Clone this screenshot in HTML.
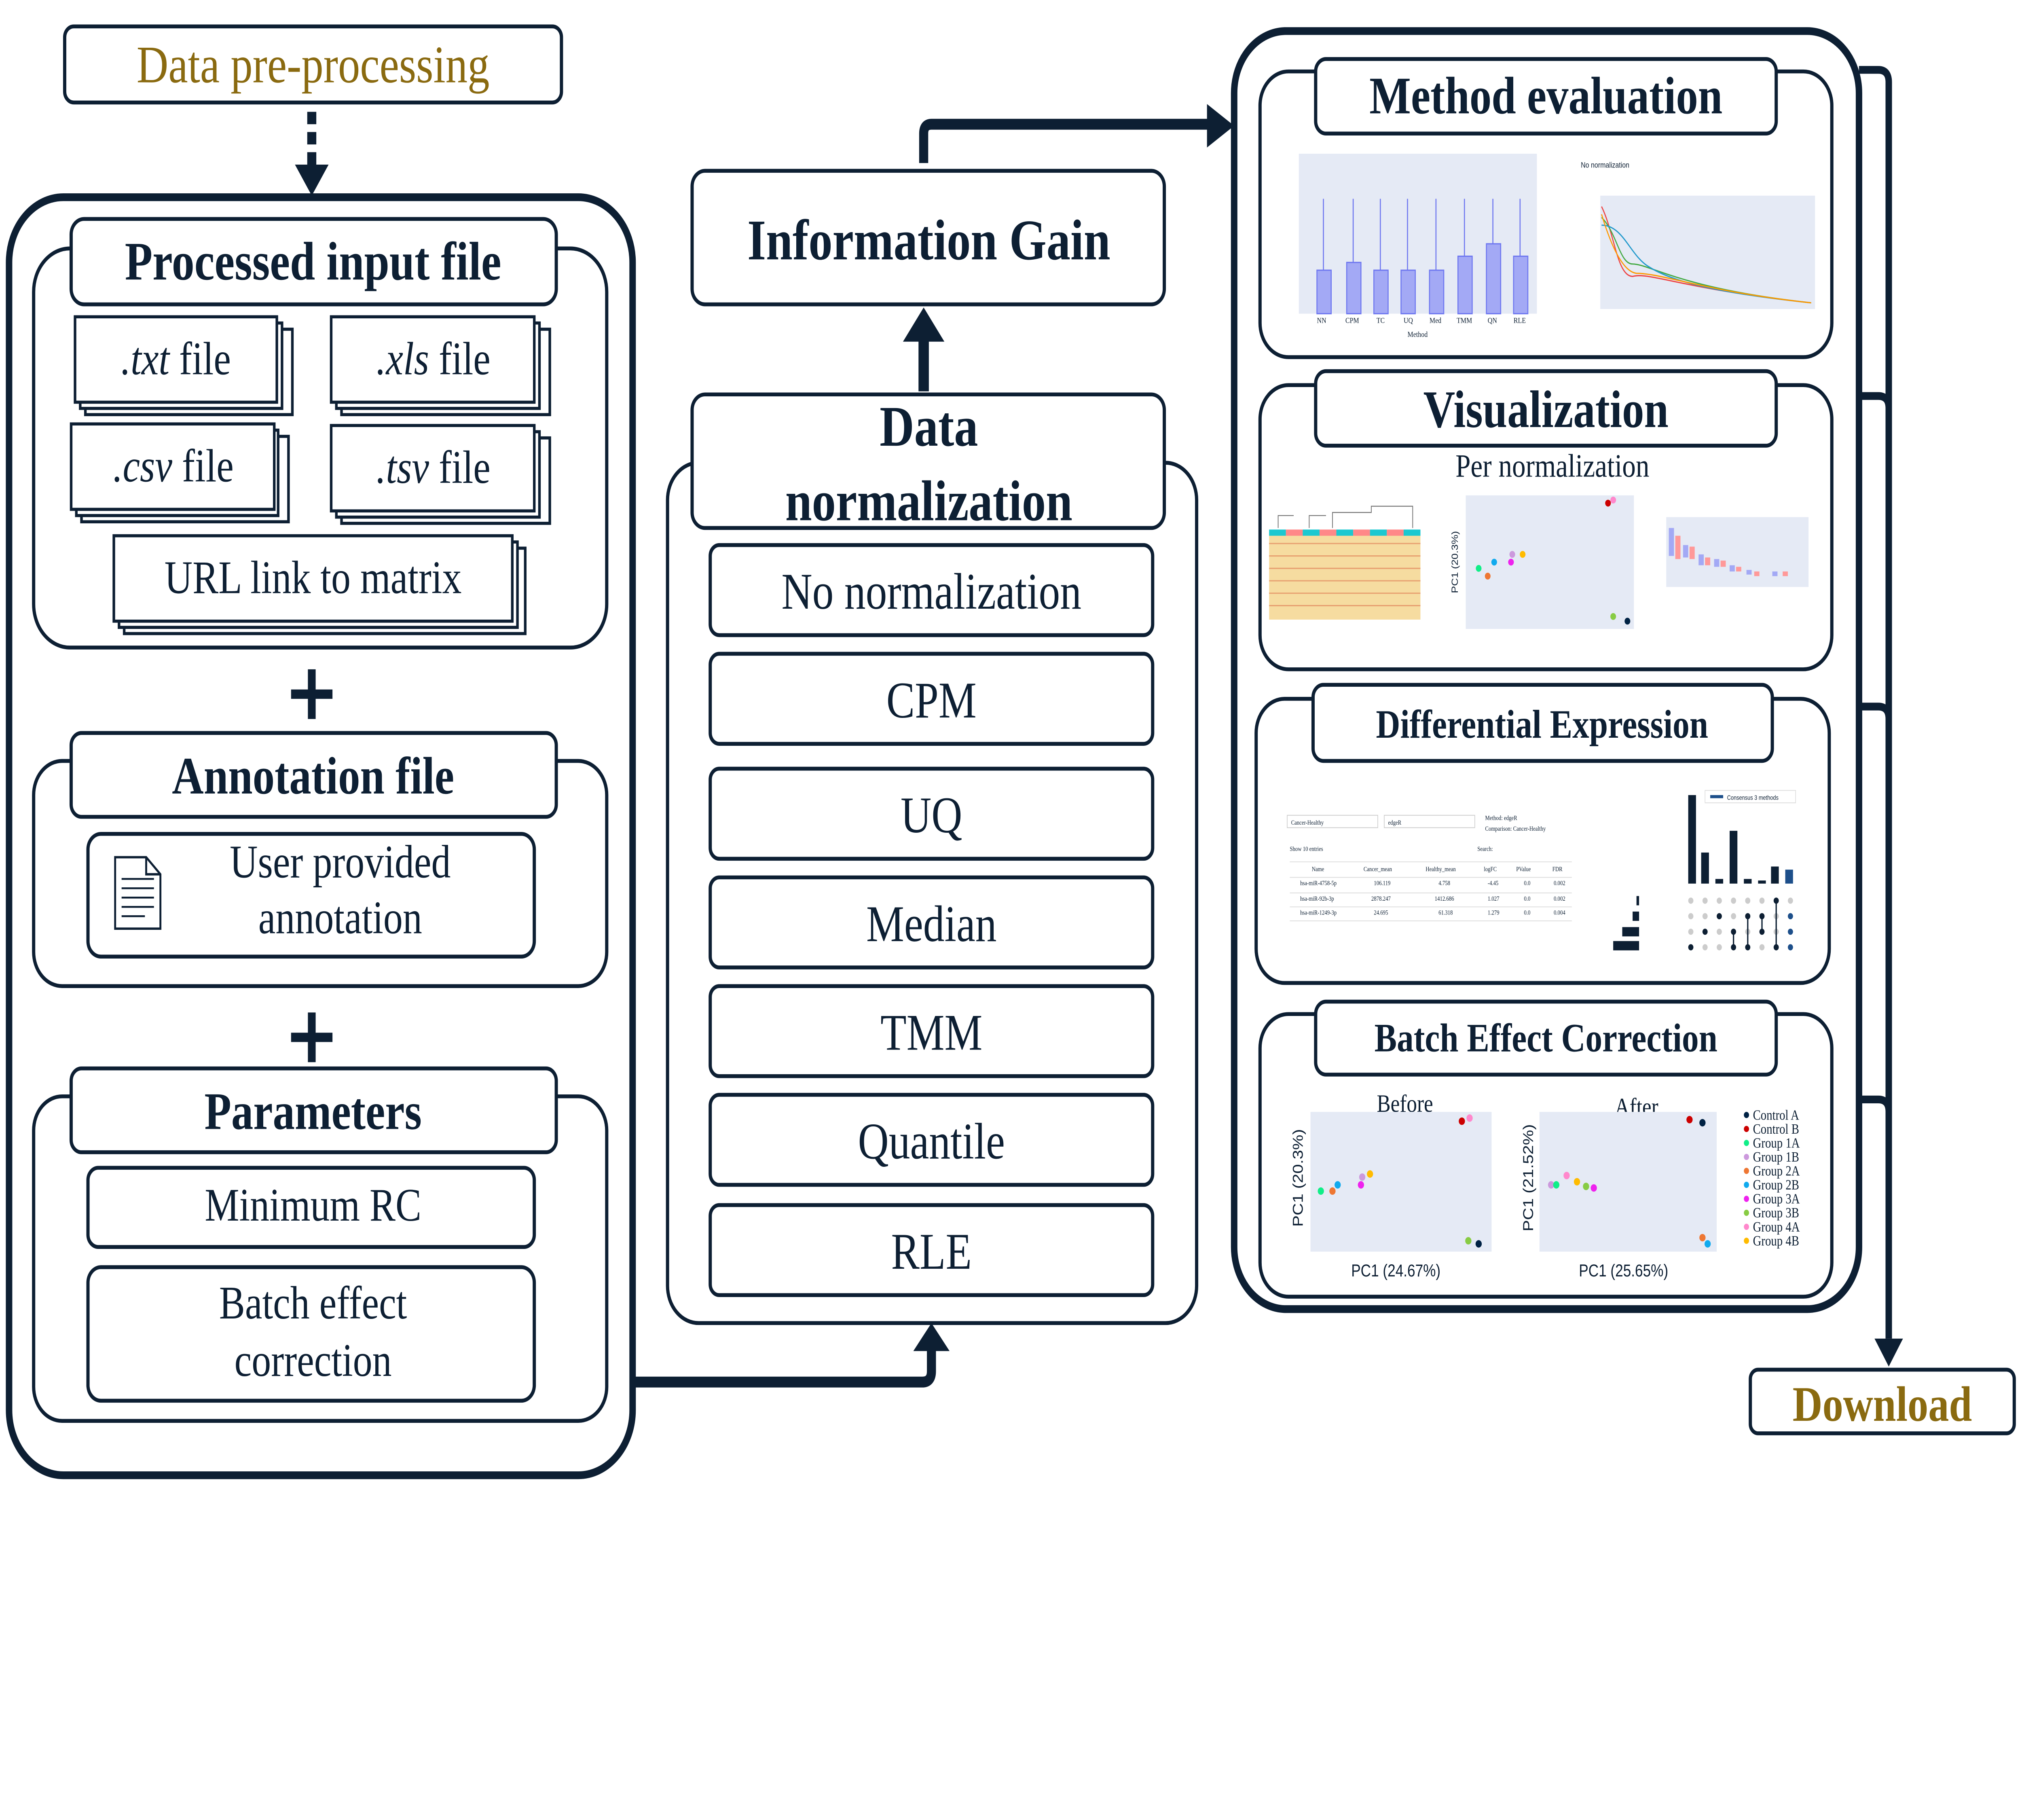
<!DOCTYPE html>
<html><head><meta charset="utf-8"><style>
html,body{margin:0;padding:0;background:#fff;width:100%;height:100%;overflow:hidden}
svg{display:block;position:absolute;left:0;top:0;width:100vw;height:100vh}
text{font-family:"Liberation Serif",serif;fill:#0d1f33}
.h{font-weight:bold}
.s{font-family:"Liberation Sans",sans-serif}
</style></head><body>
<svg viewBox="0 0 1563 1172" preserveAspectRatio="none" xmlns="http://www.w3.org/2000/svg">
<g fill="none" stroke="#0d1f33" stroke-width="2.5">
<rect x="50" y="17" width="384" height="49" rx="7" fill="#fff"/>
</g>
<text x="242" y="53" font-size="34" text-anchor="middle" style="fill:#8a6a10">Data pre-processing</text>
<line x1="241" y1="72" x2="241" y2="108" stroke="#0d1f33" stroke-width="7" stroke-dasharray="8,5"/>
<path d="M228,106 L254,106 L241,126 z" fill="#0d1f33"/>

<!-- LEFT PANEL -->
<g fill="none" stroke="#0d1f33">
<rect x="7" y="127" width="482" height="823" rx="42" stroke-width="5"/>
<rect x="26" y="160" width="443" height="257" rx="28" stroke-width="2.5"/>
<rect x="55" y="141" width="375" height="55" rx="10" fill="#fff" stroke-width="2.5"/>
</g>
<text x="242" y="180" font-size="35" text-anchor="middle" class="h">Processed input file</text>
<g fill="#fff" stroke="#0d1f33" stroke-width="2">
<rect x="66" y="212" width="160" height="55"/><rect x="62" y="208" width="156" height="55"/><rect x="58" y="204" width="156" height="55"/>
<rect x="264" y="212" width="161" height="55"/><rect x="260" y="208" width="157" height="55"/><rect x="256" y="204" width="157" height="55"/>
<rect x="63" y="281" width="160" height="55"/><rect x="59" y="277" width="156" height="55"/><rect x="55" y="273" width="157" height="55"/>
<rect x="264" y="282" width="161" height="55"/><rect x="260" y="278" width="157" height="55"/><rect x="256" y="274" width="157" height="55"/>
<rect x="96" y="353" width="310" height="55"/><rect x="92" y="349" width="308" height="55"/><rect x="88" y="345" width="308" height="55"/>
</g>
<text x="136" y="241" font-size="30" text-anchor="middle"><tspan font-style="italic">.txt</tspan> file</text>
<text x="335" y="241" font-size="30" text-anchor="middle"><tspan font-style="italic">.xls</tspan> file</text>
<text x="134" y="310" font-size="30" text-anchor="middle"><tspan font-style="italic">.csv</tspan> file</text>
<text x="335" y="311" font-size="30" text-anchor="middle"><tspan font-style="italic">.tsv</tspan> file</text>
<text x="242" y="382" font-size="30" text-anchor="middle">URL link to matrix</text>
<path d="M241,431 V463 M225,447 H257" stroke="#0d1f33" stroke-width="6"/>

<g fill="none" stroke="#0d1f33" stroke-width="2.5">
<rect x="26" y="490" width="443" height="145" rx="22"/>
<rect x="55" y="472" width="375" height="54" rx="8" fill="#fff"/>
<rect x="68" y="537" width="345" height="79" rx="10"/>
<path d="M89,552 H113 L124,563 V598 H89 z M113,552 V563 H124" stroke-width="1.5"/>
<path d="M94,566 H119 M94,572 H119 M94,578 H119 M94,584 H119 M94,590 H112" stroke-width="1.2"/>
</g>
<text x="242" y="511" font-size="34" text-anchor="middle" class="h">Annotation file</text>
<text x="263" y="565" font-size="30" text-anchor="middle">User provided</text>
<text x="263" y="601" font-size="30" text-anchor="middle">annotation</text>
<path d="M241,652 V684 M225,668 H257" stroke="#0d1f33" stroke-width="6"/>

<g fill="none" stroke="#0d1f33" stroke-width="2.5">
<rect x="26" y="706" width="443" height="209" rx="22"/>
<rect x="55" y="688" width="375" height="54" rx="8" fill="#fff"/>
<rect x="68" y="752" width="345" height="51" rx="8"/>
<rect x="68" y="816" width="345" height="86" rx="10"/>
</g>
<text x="242" y="727" font-size="34" text-anchor="middle" class="h">Parameters</text>
<text x="242" y="786" font-size="30" text-anchor="middle">Minimum RC</text>
<text x="242" y="849" font-size="30" text-anchor="middle">Batch effect</text>
<text x="242" y="886" font-size="30" text-anchor="middle">correction</text>

<path d="M489,890 H713 Q720,890 720,883 V868" fill="none" stroke="#0d1f33" stroke-width="7"/>
<path d="M706,870 L734,870 L720,852 z" fill="#0d1f33"/>

<!-- MIDDLE -->
<g fill="none" stroke="#0d1f33" stroke-width="2.5">
<rect x="516" y="298" width="409" height="554" rx="24"/>
<rect x="535" y="254" width="365" height="86" rx="10" fill="#fff"/>
<rect x="535" y="110" width="365" height="86" rx="10"/>
<rect x="549" y="351" width="342" height="58" rx="7"/>
<rect x="549" y="421" width="342" height="58" rx="7"/>
<rect x="549" y="495" width="342" height="58" rx="7"/>
<rect x="549" y="565" width="342" height="58" rx="7"/>
<rect x="549" y="635" width="342" height="58" rx="7"/>
<rect x="549" y="705" width="342" height="58" rx="7"/>
<rect x="549" y="776" width="342" height="58" rx="7"/>
</g>
<text x="718" y="287" font-size="37" text-anchor="middle" class="h">Data</text>
<text x="718" y="335" font-size="37" text-anchor="middle" class="h">normalization</text>
<text x="718" y="167" font-size="37" text-anchor="middle" class="h">Information Gain</text>
<g font-size="33" text-anchor="middle">
<text x="720" y="392">No normalization</text>
<text x="720" y="462">CPM</text>
<text x="720" y="536">UQ</text>
<text x="720" y="606">Median</text>
<text x="720" y="676">TMM</text>
<text x="720" y="746">Quantile</text>
<text x="720" y="817">RLE</text>
</g>
<line x1="714" y1="252" x2="714" y2="215" stroke="#0d1f33" stroke-width="8"/>
<path d="M698,220 L730,220 L714,198 z" fill="#0d1f33"/>
<path d="M714,105 V86 Q714,80 720,80 H938" fill="none" stroke="#0d1f33" stroke-width="7"/>
<path d="M933,67 L954,81 L933,95 z" fill="#0d1f33"/>

<!-- RIGHT PANEL -->
<g fill="none" stroke="#0d1f33">
<rect x="954" y="20" width="483" height="823" rx="40" stroke-width="5"/>
<path d="M1437,45 H1452 Q1460,45 1460,53 V862" stroke-width="5"/>
<path d="M1437,255 H1452 Q1460,255 1460,263 M1437,455 H1452 Q1460,455 1460,463 M1437,708 H1452 Q1460,708 1460,716" stroke-width="5"/>
</g>
<path d="M1449,862 L1471,862 L1460,880 z" fill="#0d1f33"/>
<rect x="1353" y="882" width="204" height="41" rx="6" fill="#fff" stroke="#0d1f33" stroke-width="2.5"/>
<text x="1455" y="915" font-size="32" text-anchor="middle" class="h" style="fill:#8a6a10">Download</text>

<g fill="none" stroke="#0d1f33" stroke-width="2.5">
<rect x="974" y="46" width="442" height="184" rx="22"/>
<rect x="974" y="248" width="442" height="183" rx="22"/>
<rect x="971" y="450" width="443" height="183" rx="22"/>
<rect x="974" y="653" width="442" height="182" rx="22"/>
<rect x="1017" y="38" width="356" height="48" rx="8" fill="#fff"/>
<rect x="1017" y="239" width="356" height="48" rx="8" fill="#fff"/>
<rect x="1015" y="441" width="355" height="49" rx="8" fill="#fff"/>
<rect x="1017" y="645" width="356" height="47" rx="8" fill="#fff"/>
</g>
<text x="1195" y="73" font-size="34" text-anchor="middle" class="h">Method evaluation</text>
<text x="1195" y="275" font-size="34" text-anchor="middle" class="h">Visualization</text>
<text x="1192" y="475" font-size="26" text-anchor="middle" class="h">Differential Expression</text>
<text x="1195" y="677" font-size="26" text-anchor="middle" class="h">Batch Effect Correction</text>
<text x="1200" y="307" font-size="21" text-anchor="middle">Per normalization</text>

<!-- Method eval plots -->
<rect x="1004" y="99" width="184" height="103" fill="#e5eaf5"/>
<g fill="#a3a9f5" stroke="#6f78f0" stroke-width="0.8">
<rect x="1018" y="174" width="11" height="28"/><rect x="1041" y="169" width="11" height="33"/>
<rect x="1062" y="174" width="11" height="28"/><rect x="1083" y="174" width="11" height="28"/>
<rect x="1105" y="174" width="11" height="28"/><rect x="1127" y="165" width="11" height="37"/>
<rect x="1149" y="157" width="11" height="45"/><rect x="1170" y="165" width="11" height="37"/>
</g>
<g stroke="#6f78f0" stroke-width="0.8">
<path d="M1023,128 V174 M1046,128 V169 M1067,128 V174 M1088,128 V174 M1110,128 V174 M1132,128 V165 M1154,128 V157 M1175,128 V165"/>
</g>
<g class="s" font-size="5" fill="#555"><text x="1018" y="208">NN</text><text x="1040" y="208">CPM</text><text x="1064" y="208">TC</text><text x="1085" y="208">UQ</text><text x="1105" y="208">Med</text><text x="1126" y="208">TMM</text><text x="1150" y="208">QN</text><text x="1170" y="208">RLE</text><text x="1088" y="217">Method</text></g>
<rect x="1237" y="126" width="166" height="73" fill="#e5eaf5"/>
<g fill="none" stroke-width="0.8">
<path d="M1238,133 C1248,150 1250,178 1262,178 C1275,175 1300,186 1400,195" stroke="#e44"/>
<path d="M1238,140 C1250,150 1252,170 1262,170 C1275,170 1300,186 1400,195" stroke="#4a4"/>
<path d="M1238,145 C1255,145 1260,165 1275,172 C1290,180 1320,188 1400,195" stroke="#29c"/>
<path d="M1238,138 C1246,160 1255,175 1265,176 C1285,176 1320,188 1400,195" stroke="#f90"/>
</g>
<text x="1222" y="108" font-size="5" class="s" fill="#555">No normalization</text>

<!-- Visualization plots -->
<rect x="981" y="343" width="117" height="56" fill="#f6dca0"/>
<g stroke="#e7a070" stroke-width="0.8"><path d="M981,350 H1098 M981,358 H1098 M981,366 H1098 M981,374 H1098 M981,382 H1098 M981,390 H1098"/></g>
<g><rect x="981" y="341" width="13" height="4" fill="#1cc8d0"/><rect x="994" y="341" width="13" height="4" fill="#f88"/><rect x="1007" y="341" width="13" height="4" fill="#1cc8d0"/><rect x="1020" y="341" width="13" height="4" fill="#f88"/><rect x="1033" y="341" width="13" height="4" fill="#1cc8d0"/><rect x="1046" y="341" width="13" height="4" fill="#f88"/><rect x="1059" y="341" width="13" height="4" fill="#1cc8d0"/><rect x="1072" y="341" width="13" height="4" fill="#f88"/><rect x="1085" y="341" width="13" height="4" fill="#1cc8d0"/></g>
<path d="M988,340 V332 H1000 M1012,340 V332 H1025 M1030,340 V330 H1060 V326 H1092 V340" fill="none" stroke="#777" stroke-width="0.6"/>
<rect x="1133" y="319" width="130" height="86" fill="#e5eaf5"/>
<text transform="translate(1127,382) rotate(-90)" font-size="7" class="s">PC1 (20.3%)</text>
<g><circle cx="1143" cy="366" r="2.2" fill="#1e8"/><circle cx="1150" cy="371" r="2.2" fill="#e73"/><circle cx="1155" cy="362" r="2.2" fill="#1ae"/><circle cx="1168" cy="362" r="2.2" fill="#e2e"/><circle cx="1169" cy="357" r="2.2" fill="#c9d"/><circle cx="1177" cy="357" r="2.2" fill="#fb0"/><circle cx="1243" cy="324" r="2.2" fill="#c00"/><circle cx="1247" cy="322" r="2.2" fill="#f8c"/><circle cx="1247" cy="397" r="2.2" fill="#8c4"/><circle cx="1258" cy="400" r="2.2" fill="#024"/></g>
<rect x="1288" y="333" width="110" height="45" fill="#e5eaf5"/>
<g fill="#a3a9f5"><rect x="1290" y="340" width="4" height="18"/><rect x="1301" y="351" width="4" height="8"/><rect x="1313" y="357" width="4" height="7"/><rect x="1325" y="360" width="4" height="5"/><rect x="1337" y="364" width="4" height="4"/><rect x="1350" y="367" width="4" height="3"/><rect x="1370" y="368" width="4" height="3"/></g>
<g fill="#f99"><rect x="1295" y="345" width="4" height="15"/><rect x="1306" y="352" width="4" height="8"/><rect x="1318" y="359" width="4" height="5"/><rect x="1330" y="361" width="4" height="4"/><rect x="1342" y="365" width="4" height="3"/><rect x="1356" y="368" width="4" height="3"/><rect x="1378" y="368" width="4" height="3"/></g>

<!-- Diff expression -->
<g class="s" font-size="4" fill="#555">
<rect x="995" y="525" width="70" height="8" fill="#fff" stroke="#ccc" stroke-width="0.5"/><text x="998" y="531">Cancer-Healthy</text>
<rect x="1070" y="525" width="70" height="8" fill="#fff" stroke="#ccc" stroke-width="0.5"/><text x="1073" y="531">edgeR</text>
<text x="1148" y="528">Method: edgeR</text><text x="1148" y="535">Comparison: Cancer-Healthy</text>
<text x="997" y="548">Show 10 entries</text><text x="1142" y="548">Search:</text>
<text x="1014" y="561">Name</text><text x="1054" y="561">Cancer_mean</text><text x="1102" y="561">Healthy_mean</text><text x="1147" y="561">logFC</text><text x="1172" y="561">PValue</text><text x="1200" y="561">FDR</text>
<text x="1005" y="570">hsa-miR-4758-5p</text><text x="1062" y="570">106.119</text><text x="1112" y="570">4.758</text><text x="1150" y="570">-4.45</text><text x="1178" y="570">0.0</text><text x="1201" y="570">0.002</text>
<text x="1005" y="580">hsa-miR-92b-3p</text><text x="1060" y="580">2878.247</text><text x="1109" y="580">1412.686</text><text x="1150" y="580">1.027</text><text x="1178" y="580">0.0</text><text x="1201" y="580">0.002</text>
<text x="1005" y="589">hsa-miR-1249-3p</text><text x="1062" y="589">24.695</text><text x="1112" y="589">61.318</text><text x="1150" y="589">1.279</text><text x="1178" y="589">0.0</text><text x="1201" y="589">0.004</text>
</g>
<path d="M997,555 H1215 M997,565 H1215 M997,575 H1215 M997,584 H1215 M997,593 H1215" stroke="#ddd" stroke-width="0.5"/>
<g fill="#0d1f33"><rect x="1305" y="512" width="6" height="57"/><rect x="1315" y="549" width="6" height="20"/><rect x="1326" y="566" width="6" height="3"/><rect x="1337" y="535" width="6" height="34"/><rect x="1348" y="566" width="6" height="3"/><rect x="1359" y="567" width="6" height="2"/><rect x="1369" y="558" width="6" height="11"/></g>
<rect x="1380" y="560" width="6" height="9" fill="#1d4f8a"/>
<rect x="1318" y="509" width="70" height="8" fill="#fff" stroke="#ddd" stroke-width="0.5"/><rect x="1322" y="512" width="10" height="2" fill="#1d4f8a"/>
<text x="1335" y="515" font-size="4" class="s" fill="#555">Consensus 3 methods</text>
<g fill="#0d1f33"><rect x="1265" y="577" width="2" height="6"/><rect x="1262" y="587" width="5" height="6"/><rect x="1254" y="597" width="13" height="6"/><rect x="1247" y="606" width="20" height="6"/></g>
<g fill="#ccc"><circle cx="1307" cy="580" r="2"/><circle cx="1318" cy="580" r="2"/><circle cx="1329" cy="580" r="2"/><circle cx="1340" cy="580" r="2"/><circle cx="1351" cy="580" r="2"/><circle cx="1362" cy="580" r="2"/><circle cx="1384" cy="580" r="2"/><circle cx="1307" cy="590" r="2"/><circle cx="1318" cy="590" r="2"/><circle cx="1340" cy="590" r="2"/><circle cx="1373" cy="590" r="2"/><circle cx="1307" cy="600" r="2"/><circle cx="1329" cy="600" r="2"/><circle cx="1351" cy="600" r="2"/><circle cx="1373" cy="600" r="2"/><circle cx="1318" cy="610" r="2"/><circle cx="1329" cy="610" r="2"/><circle cx="1362" cy="610" r="2"/></g>
<g fill="#0d1f33"><circle cx="1373" cy="580" r="2"/><circle cx="1329" cy="590" r="2"/><circle cx="1351" cy="590" r="2"/><circle cx="1362" cy="590" r="2"/><circle cx="1318" cy="600" r="2"/><circle cx="1340" cy="600" r="2"/><circle cx="1362" cy="600" r="2"/><circle cx="1307" cy="610" r="2"/><circle cx="1340" cy="610" r="2"/><circle cx="1351" cy="610" r="2"/><circle cx="1373" cy="610" r="2"/></g>
<path d="M1340,600 V610 M1351,590 V610 M1362,590 V600 M1373,580 V610" stroke="#0d1f33" stroke-width="1"/>
<g fill="#1d4f8a"><circle cx="1384" cy="590" r="2"/><circle cx="1384" cy="600" r="2"/><circle cx="1384" cy="610" r="2"/></g>

<!-- Batch effect plots -->
<text x="1086" y="716" font-size="16" text-anchor="middle">Before</text>
<text x="1265" y="718" font-size="16" text-anchor="middle">After</text>
<rect x="1013" y="716" width="140" height="90" fill="#e5eaf5"/>
<rect x="1190" y="716" width="137" height="90" fill="#e5eaf5"/>
<text transform="translate(1007,790) rotate(-90)" font-size="11" class="s">PC1 (20.3%)</text>
<text transform="translate(1185,793) rotate(-90)" font-size="11" class="s">PC1 (21.52%)</text>
<text x="1079" y="822" font-size="11" class="s" text-anchor="middle">PC1 (24.67%)</text>
<text x="1255" y="822" font-size="11" class="s" text-anchor="middle">PC1 (25.65%)</text>
<g>
<circle cx="1021" cy="767" r="2.4" fill="#1e8"/><circle cx="1030" cy="767" r="2.4" fill="#e73"/><circle cx="1034" cy="763" r="2.4" fill="#1ae"/><circle cx="1052" cy="763" r="2.4" fill="#e2e"/><circle cx="1053" cy="758" r="2.4" fill="#c9d"/><circle cx="1059" cy="756" r="2.4" fill="#fb0"/><circle cx="1130" cy="722" r="2.4" fill="#c00"/><circle cx="1136" cy="720" r="2.4" fill="#f8c"/><circle cx="1135" cy="799" r="2.4" fill="#8c4"/><circle cx="1143" cy="801" r="2.4" fill="#024"/>
<circle cx="1199" cy="763" r="2.4" fill="#c9d"/><circle cx="1203" cy="763" r="2.4" fill="#1e8"/><circle cx="1211" cy="757" r="2.4" fill="#f8c"/><circle cx="1219" cy="761" r="2.4" fill="#fb0"/><circle cx="1226" cy="764" r="2.4" fill="#8c4"/><circle cx="1232" cy="765" r="2.4" fill="#e2e"/><circle cx="1306" cy="721" r="2.4" fill="#c00"/><circle cx="1316" cy="723" r="2.4" fill="#024"/><circle cx="1316" cy="797" r="2.4" fill="#e73"/><circle cx="1320" cy="801" r="2.4" fill="#1ae"/>
</g>
<g class="s" font-size="9">
<circle cx="1350" cy="718" r="2" fill="#024"/><text x="1355" y="721">Control A</text>
<circle cx="1350" cy="727" r="2" fill="#c00"/><text x="1355" y="730">Control B</text>
<circle cx="1350" cy="736" r="2" fill="#1e8"/><text x="1355" y="739">Group 1A</text>
<circle cx="1350" cy="745" r="2" fill="#c9d"/><text x="1355" y="748">Group 1B</text>
<circle cx="1350" cy="754" r="2" fill="#e73"/><text x="1355" y="757">Group 2A</text>
<circle cx="1350" cy="763" r="2" fill="#1ae"/><text x="1355" y="766">Group 2B</text>
<circle cx="1350" cy="772" r="2" fill="#e2e"/><text x="1355" y="775">Group 3A</text>
<circle cx="1350" cy="781" r="2" fill="#8c4"/><text x="1355" y="784">Group 3B</text>
<circle cx="1350" cy="790" r="2" fill="#f8c"/><text x="1355" y="793">Group 4A</text>
<circle cx="1350" cy="799" r="2" fill="#fb0"/><text x="1355" y="802">Group 4B</text>
</g>
</svg>
</body></html>
